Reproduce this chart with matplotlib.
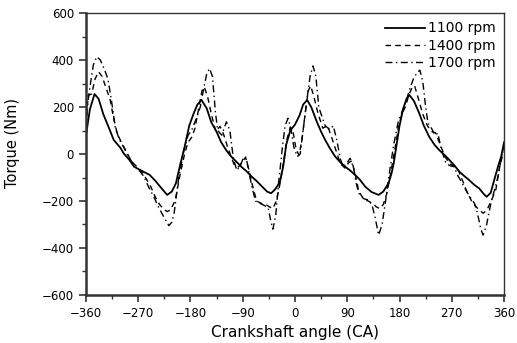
import matplotlib
matplotlib.use("Agg")
import matplotlib.pyplot as plt
from matplotlib.ticker import MultipleLocator

# 1100 rpm (solid)
angle_1100 = [-360, -353, -345, -338, -330, -320, -312, -300, -295, -285, -277, -265,
              -250, -240, -232, -220, -212, -205, -198, -190, -182, -174, -168, -161,
              -152, -144, -135, -127, -118, -110, -100, -92, -84, -75, -66, -58, -48,
              -41, -34, -26, -20, -15, -8, 0, 8, 14, 21, 28, 38, 45, 52, 60, 69, 78,
              87, 95, 104, 112, 121, 132, 144, 152, 161, 166, 170, 175, 180, 186, 192,
              197, 205, 214, 222, 231, 240, 249, 258, 266, 275, 283, 292, 300, 308,
              317, 325, 330, 337, 343, 350, 355, 360]
torque_1100 = [75, 190, 255, 235, 170, 110, 60, 25, 3, -25, -54, -70,
               -89, -115, -139, -174, -160, -125, -50, 30, 120, 175, 210, 230,
               195, 135, 95, 50, 15, -10, -35, -55, -72, -95, -115, -135, -160,
               -167, -150, -120, -50, 40, 100, 125, 165, 210, 230, 200, 135, 95, 60, 25, -10, -35,
               -55, -70, -90, -110, -139, -162, -174, -160, -125, -85, -40, 40, 120, 190, 235,
               251, 225, 173, 120, 74, 40, 15, -5, -26, -50, -75, -95, -111, -130,
               -146, -170, -182, -165, -111, -50, -10, 50]

# 1400 rpm (dashed)
angle_1400 = [-360, -356, -350, -344, -338, -332, -325, -318, -312, -306, -298, -290,
              -282, -272, -262, -255, -248, -240, -233, -226, -220, -214, -206, -198,
              -190, -184, -178, -172, -166, -160, -156, -150, -143, -136, -129, -123,
              -116, -110, -104, -97, -90, -85, -80, -74, -66, -58, -50, -44, -38, -32,
              -26, -20, -14, -8, -3, 2, 7, 12, 18, 23, 27, 32, 40, 48, 56, 62, 70, 78,
              86, 93, 98, 104, 110, 118, 126, 134, 140, 146, 152, 158, 165, 172, 178,
              184, 190, 196, 202, 206, 212, 220, 228, 236, 242, 250, 258, 266, 272,
              280, 288, 296, 304, 312, 318, 324, 330, 338, 346, 352, 357, 360]
torque_1400 = [120, 250, 255, 320, 350, 330, 280, 230, 150, 88, 45, 10,
               -30, -54, -80, -110, -140, -185, -215, -235, -245, -238, -196, -90,
               0, 50, 70, 110, 190, 270, 285, 240, 160, 95, 118, 85,
               30, -10, -50, -55, -30, -15, -60, -125, -200, -210, -215, -225, -232, -200,
               -130, -40, 60, 115, 90, 20, -5, 60, 180, 270, 290, 250, 170, 110, 120, 80, 20, -40,
               -60, -35, -30, -90, -160, -190, -200, -210, -225, -232, -215, -170, -80, 20, 110,
               170, 200, 250, 285, 290, 240, 170, 120, 95, 90, 40, -10, -40, -50,
               -60, -110, -160, -200, -225, -240, -252, -240, -200, -150, -60, -10, 10]

# 1700 rpm (dash-dot)
angle_1700 = [-360, -356, -352, -347, -341, -335, -328, -322, -316, -309, -302, -295,
              -287, -277, -268, -260, -252, -243, -235, -226, -217, -212, -208, -200,
              -191, -184, -178, -170, -163, -157, -152, -147, -142, -137, -133, -126,
              -118, -112, -106, -100, -94, -88, -84, -79, -74, -68, -60, -52, -46, -42,
              -38, -33, -28, -22, -17, -12, -7, -2, 4, 9, 14, 20, 26, 31, 36, 41, 45,
              52, 60, 66, 72, 78, 83, 89, 95, 101, 106, 110, 118, 127, 133, 138, 144,
              150, 156, 162, 170, 178, 186, 192, 198, 204, 210, 215, 220, 225, 229,
              235, 241, 246, 252, 260, 267, 274, 280, 287, 294, 302, 309, 314, 320,
              324, 330, 338, 344, 350, 355, 360]
torque_1700 = [100, 230, 300, 380, 414, 400, 360, 320, 230, 110, 60, 30,
               -10, -47, -70, -96, -140, -182, -225, -267, -305, -290, -252, -100,
               17, 80, 100, 150, 200, 280, 340, 364, 330, 180, 100, 80,
               137, 100, -20, -70, -50, -11, -15, -80, -140, -200, -210, -220, -230, -280,
               -320, -260, -120, 20, 120, 152, 110, 30, -11, 0, 100, 220, 330, 375, 330, 200, 170,
               120, 105, 120, 60, -20, -55, -40, -18, -60, -130, -167, -190, -196, -220, -270, -345,
               -300, -200, -90, 40, 140, 190, 230, 280, 320, 345, 357, 310, 200, 131,
               110, 80, 88, 20, -40, -50, -54, -90, -120, -153, -185, -210, -250, -320,
               -345, -300, -200, -150, -90, -20, 40]

fig = plt.figure(figsize=(5.17, 3.43), dpi=100)
ax = fig.add_axes([0.166, 0.140, 0.809, 0.822])

ax.plot(angle_1100, torque_1100, color="black", lw=1.3, ls="-", label="1100 rpm")
ax.plot(angle_1400, torque_1400, color="black", lw=1.0, ls=(0, (4, 3)), label="1400 rpm")
ax.plot(angle_1700, torque_1700, color="black", lw=1.0, ls=(0, (5, 2.5, 1, 2.5)),
        label="1700 rpm")

ax.set_xlim(-360, 360)
ax.set_ylim(-600, 600)
ax.xaxis.set_major_locator(MultipleLocator(90))
ax.xaxis.set_minor_locator(MultipleLocator(45))
ax.yaxis.set_major_locator(MultipleLocator(200))
ax.yaxis.set_minor_locator(MultipleLocator(100))
ax.tick_params(which="major", direction="out", length=5, width=1.2, labelsize=8.5,
               color="#333333")
ax.tick_params(which="minor", direction="out", length=3, width=1.0, color="#333333")

for side in ("left", "bottom"):
    ax.spines[side].set_linewidth(1.8)
    ax.spines[side].set_color("#333333")
for side in ("top", "right"):
    ax.spines[side].set_linewidth(1.0)
    ax.spines[side].set_color("#333333")

ax.set_xlabel("Crankshaft angle (CA)", fontsize=11, labelpad=4)
ax.set_ylabel("Torque (Nm)", fontsize=10.5)
ax.yaxis.set_label_coords(-0.158, 0.54)

ax.legend(loc="upper right", bbox_to_anchor=(1.0, 1.0), frameon=False, fontsize=10,
          handlelength=2.9, handletextpad=0.2, labelspacing=0.25, borderaxespad=0.2)

fig.savefig("out.png", dpi=100)
